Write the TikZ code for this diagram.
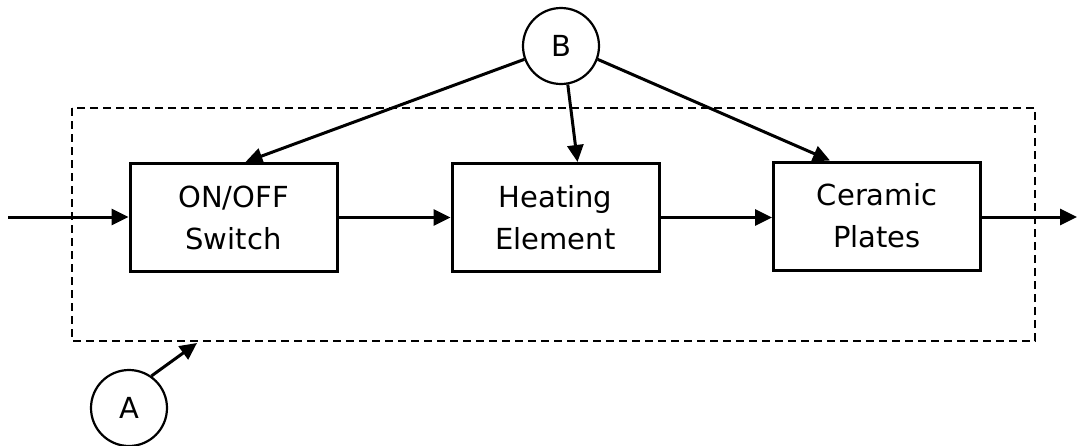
\documentclass[tikz,border=0pt]{standalone}
\usepackage{fontspec}
\setmainfont{DejaVu Sans}
\usetikzlibrary{arrows.meta}
\begin{document}
\begin{tikzpicture}[x=1pt,y=-1pt,
  every node/.style={font=\fontsize{29}{42}\selectfont},
  blockbox/.style={draw,line width=3pt,minimum width=207pt,minimum height=108pt,align=center,inner sep=0pt},
  circ/.style={draw,circle,line width=2.2pt,minimum size=76pt,inner sep=0pt},
  conn/.style={line width=3pt,-{Triangle[length=17pt,width=16pt]}},
  frame/.style={draw,line width=2.4pt,dash pattern=on 8pt off 5pt}]
\useasboundingbox (0,0) rectangle (1077,445);
\draw[frame] (72,108) rectangle (1035,341);
\node[blockbox] (sw) at (233.5,217.5) {ON/OFF\\Switch};
\node[blockbox] (he) at (555.5,217.5) {Heating\\Element};
\node[blockbox] (ce) at (877,216) {Ceramic\\Plates};
\node[circ] (B) at (561,46) {B};
\node[circ] (A) at (129,408) {A};
\coordinate (in) at (8,217);
\coordinate (out) at (1077,217);
\coordinate (fr) at (197,343);
\draw[conn] (in) -- (in -| sw.west);
\draw[conn] (sw.east) -- (sw.east -| he.west);
\draw[conn] (he.east) -- (he.east -| ce.west);
\draw[conn] (ce.east |- out) -- (out);
\draw[conn] (B.200) -- ([xshift=12pt]sw.north);
\draw[conn] (B.-80) -- ([xshift=22pt]he.north);
\draw[conn] (B.-20) -- ([xshift=-47pt]ce.north);
\draw[conn] (A.55) -- (fr);
\end{tikzpicture}
\end{document}
